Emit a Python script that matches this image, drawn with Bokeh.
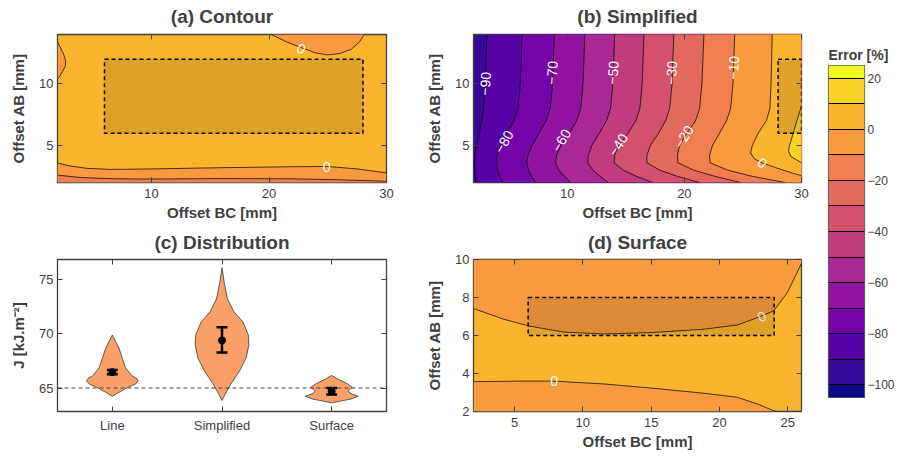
from bokeh.plotting import figure
from bokeh.layouts import row, column
from bokeh.models import Range1d, FixedTicker, LinearAxis, Span, ColumnDataSource, CustomLabelingPolicy
from bokeh.core.properties import value
from bokeh.embed import file_html
from bokeh.resources import INLINE

FONT = "Liberation Sans"
INK = "#404040"

# ---------------- colour levels (Error [%]) ----------------
LEVELS = [-105, -100, -90, -80, -70, -60, -50, -40, -30, -20, -10, 0, 10, 20, 25]
BAND_COLORS = ["#0D0887", "#37069A", "#5602A4", "#7403A8", "#9114A0", "#AA2893", "#C13B80",
               "#D3506F", "#E2695E", "#EF7F4F", "#F89B3E", "#FAB42E", "#F8D326", "#EFF821"]
CBAR_TICKS = [-100, -80, -60, -40, -20, 0, 20]

# ---------------- (a) Contour ----------------
A_XR = (2, 30)
A_YR = (2, 14)
A_L0_X = [2.0, 3.0, 4.5, 6.5, 10, 16, 22, 25, 27.5, 30]
A_L0_Y = [3.58, 3.35, 3.15, 3.06, 3.1, 3.2, 3.28, 3.3, 3.1, 2.78]
A_LM10_X = [2.0, 4, 7, 10, 16, 22, 26, 30]
A_LM10_Y = [2.6, 2.4, 2.3, 2.28, 2.32, 2.3, 2.22, 2.1]
A_TOP_X = [20.2, 21.5, 22.7, 24, 25, 26, 27, 27.7, 28.1]
A_TOP_Y = [14.0, 13.4, 12.95, 12.5, 12.35, 12.45, 12.8, 13.4, 14.0]
A_LEFT_X = [2.0, 2.3, 2.56, 2.7, 2.65, 2.43, 2.0]
A_LEFT_Y = [13.4, 12.85, 12.3, 11.8, 11.4, 11.0, 10.35]
A_LABEL_X = [22.75, 24.9]
A_LABEL_Y = [12.85, 3.26]
A_LABEL_T = ["0", "0"]
A_LABEL_ANG = [-28, 0]
A_RECT = (6, 28, 6, 12)

# ---------------- (b) Simplified ----------------
B_XR = (2, 30)
B_YR = (2, 14)
B_Y = [14, 10, 8, 7, 6, 5, 4.2, 3.6, 3.0, 2.5, 2.0]
B_LINE_LEVELS = [-90, -80, -70, -60, -50, -40, -30, -20, -10]
B_LINE_X = [
    [3.15, 3.0, 2.85, 2.7, 2.5, 2.25, 2.1, 2.07, 2.1, 2.15, 2.25],
    [6.15, 6.0, 5.8, 5.45, 4.85, 4.3, 4.0, 3.95, 4.05, 4.25, 4.5],
    [8.9, 8.75, 8.55, 8.2, 7.6, 7.0, 6.65, 6.55, 6.7, 6.95, 7.3],
    [11.5, 11.35, 11.15, 10.8, 10.2, 9.45, 9.1, 9.0, 9.3, 9.75, 10.3],
    [14.05, 13.9, 13.7, 13.35, 12.75, 12.1, 11.8, 11.75, 12.2, 12.8, 13.5],
    [16.55, 16.4, 16.2, 15.85, 15.2, 14.4, 14.05, 14.0, 14.8, 15.9, 17.3],
    [19.1, 18.95, 18.75, 18.4, 17.8, 17.1, 16.8, 16.8, 17.9, 19.4, 21.3],
    [21.67, 21.5, 21.3, 20.95, 20.2, 19.6, 19.4, 19.45, 20.8, 22.6, 24.8],
    [24.3, 24.15, 23.95, 23.6, 23.0, 22.4, 22.15, 22.2, 23.7, 25.8, 28.6],
]
B_ZERO_X = [27.5, 27.4, 27.3, 27.0, 26.3, 25.8, 25.65, 26.0, 26.65, 27.8, 29.1, 30.0]
B_ZERO_Y = [14, 10, 8, 7, 6, 5, 4.4, 3.9, 3.6, 3.2, 2.8, 2.55]
B_TEN_X = [30.0, 29.6, 29.2, 28.95, 28.9, 29.1, 30.0]
B_TEN_Y = [8.2, 7.0, 5.7, 4.9, 4.5, 4.1, 3.6]
B_LABEL_T = ["\u221290", "\u221270", "\u221250", "\u221230", "\u221210",
             "\u221280", "\u221260", "\u221240", "\u221220", "0"]
B_LABEL_X = [3.0, 8.7, 13.9, 18.9, 24.2, 4.6, 9.5, 14.35, 19.95, 26.65]
B_LABEL_Y = [10.0, 10.9, 10.9, 10.9, 11.3, 5.3, 5.4, 5.05, 5.7, 3.6]
B_LABEL_ANG = [86, 86, 86, 86, 86, 60, 60, 56, 58, -35]
B_RECT = (28, 30, 6, 12)

# ---------------- (c) Distribution ----------------
C_CATS = ["Line", "Simplified", "Surface"]
C_XR = (0.5, 3.5)
C_YR = (62.9, 76.8)
C_LINE_Y = [64.3, 64.65, 65.1, 65.4, 65.7, 65.95, 66.15, 66.9, 67.8, 68.7, 69.3, 69.9]
C_LINE_W = [0.0, 0.06, 0.14, 0.21, 0.235, 0.22, 0.18, 0.12, 0.09, 0.06, 0.03, 0.0]
C_SIMP_Y = [63.9, 64.5, 65.4, 66.6, 67.8, 69.0, 69.9, 71.1, 72.0, 73.2, 74.7, 76.05]
C_SIMP_W = [0.0, 0.03, 0.08, 0.16, 0.22, 0.245, 0.24, 0.19, 0.11, 0.05, 0.02, 0.0]
C_SURF_Y = [63.7, 63.85, 64.05, 64.3, 64.55, 64.8, 65.1, 65.4, 65.85, 66.2]
C_SURF_W = [0.0, 0.08, 0.18, 0.24, 0.17, 0.15, 0.19, 0.15, 0.06, 0.0]
C_MEAN = [66.5, 69.4, 64.75]
C_LO = [66.3, 68.3, 64.45]
C_HI = [66.7, 70.6, 65.05]
C_REF = 65.05

# ---------------- (d) Surface ----------------
D_XR = (2, 26)
D_YR = (2, 10)
D_UP_X = [2.0, 4.24, 6.06, 8.6, 11.55, 14.96, 18.86, 21.3, 23.0, 23.97, 24.95, 26.0]
D_UP_Y = [7.42, 6.85, 6.5, 6.18, 6.08, 6.15, 6.33, 6.55, 7.0, 7.3, 8.24, 9.8]
D_LOW_X = [2.0, 5.46, 7.89, 11.55, 15.2, 18.86, 21.3, 22.76, 24.1]
D_LOW_Y = [3.57, 3.6, 3.6, 3.45, 3.22, 2.96, 2.75, 2.4, 2.0]
D_LABEL_X = [7.9, 23.1]
D_LABEL_Y = [3.6, 7.0]
D_LABEL_T = ["0", "0"]
D_LABEL_ANG = [0, 28]
D_RECT = (6, 24, 6, 8)


def band(lo):
    return BAND_COLORS[LEVELS.index(lo)]


def style_axis(ax, ticks, labels=True, horizontal=True):
    ax.ticker = FixedTicker(ticks=ticks)
    ax.major_tick_in = 5
    ax.major_tick_out = 0
    ax.minor_tick_line_color = None
    ax.axis_line_color = None
    ax.major_tick_line_color = INK
    ax.major_tick_line_width = 1
    ax.major_label_text_font = FONT
    ax.major_label_text_color = INK
    ax.axis_label_text_font = FONT
    ax.axis_label_text_font_style = "bold"
    ax.axis_label_text_font_size = "15px"
    ax.axis_label_text_color = INK
    if horizontal:
        ax.axis_label_standoff = 3
        ax.major_label_standoff = 6
    else:
        ax.axis_label_standoff = 9
        ax.major_label_standoff = 4
    ax.major_label_text_font_size = "13px"
    if not labels:
        ax.major_label_text_font_size = "1px"
        ax.major_label_standoff = 0
        ax.major_label_policy = CustomLabelingPolicy(code="return []")


def make_panel(title, xr, yr, xticks, yticks, w, h, mb, xlabel=None, ylabel=None, standoff=7):
    p = figure(width=w, height=h, x_range=Range1d(*xr), y_range=Range1d(*yr),
               output_backend="svg", toolbar_location=None, title=title,
               min_border_left=mb[0], min_border_right=mb[1],
               min_border_top=mb[2], min_border_bottom=mb[3])
    t = p.title
    t.align = "center"
    t.text_font = FONT
    t.text_font_size = "19px"
    t.text_font_style = "bold"
    t.text_color = INK
    t.standoff = standoff
    p.grid.visible = False
    p.outline_line_color = INK
    p.outline_line_width = 1.3
    bottom = p.below[0]
    left = p.left[0]
    top = LinearAxis()
    right = LinearAxis()
    p.add_layout(top, "above")
    p.add_layout(right, "right")
    style_axis(bottom, xticks, horizontal=True)
    style_axis(left, yticks, horizontal=False)
    style_axis(top, xticks, labels=False)
    style_axis(right, yticks, labels=False)
    if xlabel:
        bottom.axis_label = xlabel
    if ylabel:
        left.axis_label = ylabel
    return p


def below(xs, ys, ymin):
    return xs + [xs[-1], xs[0]], ys + [ymin, ymin]


def above(xs, ys, ymax):
    return xs + [xs[-1], xs[0]], ys + [ymax, ymax]


def right_of(xs, ys, xmax):
    return xs + [xmax, xmax], ys + [ys[-1], ys[0]]


def contour_lines(p, lines):
    for xs, ys in lines:
        p.line(xs, ys, line_color="black", line_width=0.8, line_alpha=0.9)


def labels(p, xs, ys, ts, angs):
    p.text(x=xs, y=ys, text=ts, angle=angs, angle_units="deg", text_align="center",
           text_baseline="middle", text_color="white", text_font=value(FONT),
           text_font_size="14px")


def roi(p, r):
    p.quad(left=[r[0]], right=[r[1]], bottom=[r[2]], top=[r[3]], fill_color="black",
           fill_alpha=0.1, line_color="black", line_dash="4 3", line_width=1.5)


# ---------------- build (a) ----------------
pa = make_panel("(a) Contour", A_XR, A_YR, [10, 20, 30], [5, 10], 394, 227, (57, 8, 28, 45),
                xlabel="Offset BC [mm]", ylabel="Offset AB [mm]")
pa.background_fill_color = band(0)
xs1, ys1 = below(A_L0_X, A_L0_Y, A_YR[0])
xs2, ys2 = below(A_LM10_X, A_LM10_Y, A_YR[0])
pa.patches(xs=[xs1, xs2, A_TOP_X, A_LEFT_X], ys=[ys1, ys2, A_TOP_Y, A_LEFT_Y],
           fill_color=[band(-10), band(-20), band(-10), band(-10)], line_color=None)
contour_lines(pa, [(A_L0_X, A_L0_Y), (A_LM10_X, A_LM10_Y), (A_TOP_X, A_TOP_Y), (A_LEFT_X, A_LEFT_Y)])
labels(pa, A_LABEL_X, A_LABEL_Y, A_LABEL_T, A_LABEL_ANG)
roi(pa, A_RECT)

# ---------------- build (b) ----------------
pb = make_panel("(b) Simplified", B_XR, B_YR, [10, 20, 30], [5, 10], 417, 227, (79, 10, 28, 45),
                xlabel="Offset BC [mm]", ylabel="Offset AB [mm]")
pb.background_fill_color = band(-100)
bxs, bys, bcols, blines = [], [], [], []
for lev, xs in zip(B_LINE_LEVELS, B_LINE_X):
    px, py = right_of(xs, B_Y, B_XR[1])
    bxs.append(px); bys.append(py); bcols.append(band(lev))
    blines.append((xs, B_Y))
for lev, xs, ys in ((0, B_ZERO_X, B_ZERO_Y), (10, B_TEN_X, B_TEN_Y)):
    px, py = right_of(xs, ys, B_XR[1])
    bxs.append(px); bys.append(py); bcols.append(band(lev))
    blines.append((xs, ys))
pb.patches(xs=bxs, ys=bys, fill_color=bcols, line_color=None)
contour_lines(pb, blines)
labels(pb, B_LABEL_X, B_LABEL_Y, B_LABEL_T, B_LABEL_ANG)
roi(pb, B_RECT)

# ---------------- build (c) ----------------
pc = make_panel("(c) Distribution", C_XR, C_YR, [1, 2, 3], [65, 70, 75], 394, 229, (57, 8, 30, 45),
                ylabel="J [kJ.m\u207b\u00b2]", standoff=5)
pc.below[0].major_label_overrides = {i + 1: c for i, c in enumerate(C_CATS)}
pc.add_layout(Span(location=C_REF, dimension="width", line_color=INK, line_dash="4 3", line_width=1))
vx, vy = [], []
for i, (ys, ws) in enumerate(((C_LINE_Y, C_LINE_W), (C_SIMP_Y, C_SIMP_W), (C_SURF_Y, C_SURF_W))):
    c = i + 1
    vx.append([c + w for w in ws] + [c - w for w in ws[::-1]])
    vy.append(ys + ys[::-1])
pc.patches(xs=vx, ys=vy, fill_color="#FBA068", line_color="#3a3a3a", line_width=0.8)
cx = [i + 1 for i in range(len(C_CATS))]
cap = 0.05
pc.segment(x0=cx, y0=C_LO, x1=cx, y1=C_HI, line_color="black", line_width=2.5)
pc.segment(x0=[x - cap for x in cx], y0=C_LO, x1=[x + cap for x in cx], y1=C_LO,
           line_color="black", line_width=2.5)
pc.segment(x0=[x - cap for x in cx], y0=C_HI, x1=[x + cap for x in cx], y1=C_HI,
           line_color="black", line_width=2.5)
pc.scatter(x=cx, y=C_MEAN, size=7, color="black")

# ---------------- build (d) ----------------
pd_ = make_panel("(d) Surface", D_XR, D_YR, [5, 10, 15, 20, 25], [2, 4, 6, 8, 10], 417, 229,
                 (79, 10, 31, 45), xlabel="Offset BC [mm]", ylabel="Offset AB [mm]", standoff=5)
pd_.background_fill_color = band(0)
ux, uy = above(D_UP_X, D_UP_Y, D_YR[1])
lx, ly = below(D_LOW_X, D_LOW_Y, D_YR[0])
pd_.patches(xs=[ux, lx], ys=[uy, ly], fill_color=[band(-10), band(-10)], line_color=None)
contour_lines(pd_, [(D_UP_X, D_UP_Y), (D_LOW_X, D_LOW_Y)])
labels(pd_, D_LABEL_X, D_LABEL_Y, D_LABEL_T, D_LABEL_ANG)
roi(pd_, D_RECT)

# ---------------- colour bar ----------------
pcb = figure(width=86, height=456, x_range=Range1d(0, 1), y_range=Range1d(LEVELS[0], LEVELS[-1]),
             output_backend="svg", toolbar_location=None, title="Error [%]", y_axis_location="right",
             min_border_left=17, min_border_right=30, min_border_top=65, min_border_bottom=59)
pcb.title.align = "left"
pcb.title.text_font = FONT
pcb.title.text_font_size = "14px"
pcb.title.text_font_style = "bold"
pcb.title.text_color = INK
pcb.title.standoff = 6
pcb.grid.visible = False
pcb.xaxis.visible = False
pcb.outline_line_color = "#606060"
pcb.outline_line_width = 1.2
pcb.quad(left=0, right=1, bottom=LEVELS[:-1], top=LEVELS[1:], fill_color=BAND_COLORS, line_color=None)
pcb.hspan(y=LEVELS[1:-1], line_color="black", line_width=1.2)
cax = pcb.right[0]
cax.ticker = FixedTicker(ticks=CBAR_TICKS)
cax.major_label_overrides = {t: str(t).replace("-", "\u2212") for t in CBAR_TICKS}
cax.major_tick_in = 0
cax.major_tick_out = 0
cax.minor_tick_line_color = None
cax.axis_line_color = None
cax.major_label_standoff = 3
cax.major_label_text_font = FONT
cax.major_label_text_font_size = "12px"
cax.major_label_text_color = INK

layout = row(column(pa, pc), column(pb, pd_), pcb)
open("out.html", "w").write(file_html(layout, INLINE))
